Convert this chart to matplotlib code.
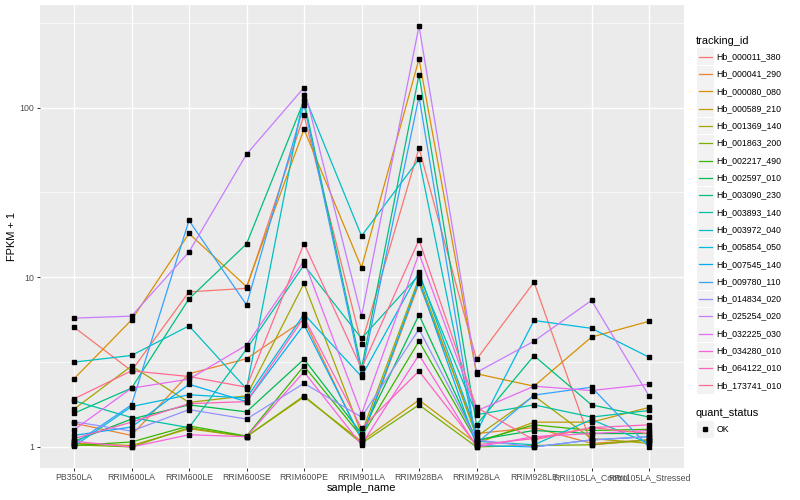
import matplotlib
matplotlib.use('Agg')
import matplotlib.pyplot as plt
from matplotlib.patches import Rectangle
from matplotlib.lines import Line2D
from matplotlib.ticker import FixedLocator, NullFormatter

plt.rcParams['font.family'] = ['Liberation Sans', 'DejaVu Sans']

samples = ['PB350LA', 'RRIM600LA', 'RRIM600LE', 'RRIM600SE', 'RRIM600PE', 'RRIM901LA',
           'RRIM928BA', 'RRIM928LA', 'RRIM928LE', 'RRII105LA_Control', 'RRII105LA_Stressed']

tracking_ids = ['Hb_000011_380', 'Hb_000041_290', 'Hb_000080_080', 'Hb_000589_210',
                'Hb_001369_140', 'Hb_001863_200', 'Hb_002217_490', 'Hb_002597_010',
                'Hb_003090_230', 'Hb_003893_140', 'Hb_003972_040', 'Hb_005854_050',
                'Hb_007545_140', 'Hb_009780_110', 'Hb_014834_020', 'Hb_025254_020',
                'Hb_032225_030', 'Hb_034280_010', 'Hb_064122_010', 'Hb_173741_010']

# ggplot default hue palette for 20 levels
colors = ['#F8766D', '#EA8331', '#D89000', '#C09B00', '#A3A500', '#7CAE00', '#39B600',
          '#00BB4E', '#00BF7D', '#00C1A3', '#00BFC4', '#00BAE0', '#00B0F6', '#35A2FF',
          '#9590FF', '#C77CFF', '#E76BF3', '#FA62DB', '#FF62BC', '#FF6C91']

# FPKM + 1, one row per tracking_id, one value per sample
fpkm = [
    [5.08, 2.81, 8.2, 8.6, 90, 4.05, 57.6, 3.28, 9.35, 1.03, 1.1],
    [1.38, 1.17, 2.7, 3.31, 5.6, 1.1, 9.2, 1.2, 1.3, 1.05, 1.1],
    [2.52, 5.6, 18.1, 8.8, 74.4, 11.4, 193, 2.7, 2.28, 4.44, 5.5],
    [1.05, 1.02, 1.28, 1.15, 1.97, 1.08, 1.89, 1.05, 1.4, 1.4, 1.71],
    [1.67, 3.0, 1.83, 2.0, 9.2, 1.2, 9.9, 1.15, 2.0, 1.12, 1.05],
    [1.03, 1.0, 1.3, 1.15, 2.0, 1.05, 1.77, 1.0, 1.02, 1.03, 1.1],
    [1.02, 1.07, 1.33, 1.16, 3.0, 1.15, 4.2, 1.08, 1.35, 1.25, 1.27],
    [1.08, 1.46, 1.77, 1.61, 3.29, 1.2, 6.0, 1.1, 1.25, 1.2, 1.2],
    [1.58, 2.22, 7.46, 15.7, 110, 2.9, 156, 1.35, 3.45, 1.77, 1.5],
    [1.87, 1.49, 1.3, 3.77, 11.8, 4.36, 10.3, 1.55, 1.77, 1.5, 1.64],
    [3.16, 3.46, 5.17, 2.2, 119, 17.5, 49.7, 1.08, 1.03, 1.45, 1.05],
    [1.01, 1.73, 2.03, 1.94, 6.06, 2.6, 10.7, 1.22, 5.56, 5.0, 3.38],
    [1.17, 1.31, 2.34, 1.85, 5.25, 1.12, 9.5, 1.02, 1.0, 1.1, 1.15],
    [1.04, 1.77, 21.6, 6.87, 104, 2.7, 116, 1.05, 2.02, 2.25, 1.0],
    [1.41, 1.24, 1.66, 1.46, 2.37, 1.5, 4.94, 1.1, 1.0, 1.1, 1.15],
    [5.74, 5.9, 14.1, 53, 131, 5.9, 302, 2.75, 4.2, 7.3, 2.0],
    [1.26, 2.22, 2.51, 3.98, 12.5, 1.56, 13.8, 1.63, 2.28, 2.15, 2.34],
    [1.08, 1.0, 1.18, 1.15, 2.77, 1.03, 3.49, 1.0, 1.15, 1.2, 1.25],
    [1.12, 1.4, 1.8, 1.85, 5.8, 1.29, 2.8, 1.03, 1.12, 1.3, 1.35],
    [1.92, 2.81, 2.6, 2.25, 15.8, 2.9, 16.6, 1.71, 1.1, 1.3, 1.2],
]

W, H = 800, 500
fig = plt.figure(figsize=(8, 5), dpi=100)
# panel placed in pixel units like the ggplot output
ax = fig.add_axes([39.5 / W, 1 - 468 / H, (683.5 - 39.5) / W, (468 - 5) / H])
ax.set_facecolor('#EBEBEB')
for s in ax.spines.values():
    s.set_visible(False)

x = list(range(len(samples)))
for vals, c in zip(fpkm, colors):
    ax.plot(x, vals, color=c, lw=0.9, zorder=3)
for vals in fpkm:
    ax.plot(x, vals, 's', color='black', ms=3, zorder=4)

ax.set_yscale('log')
ax.set_ylim(10 ** -0.124, 10 ** 2.604)
ax.set_xlim(-0.6, len(samples) - 0.4)
ax.yaxis.set_major_locator(FixedLocator([1, 10, 100]))
ax.set_yticklabels(['1', '10', '100'])
ax.yaxis.set_minor_locator(FixedLocator([10 ** 0.5, 10 ** 1.5, 10 ** 2.5]))
ax.yaxis.set_minor_formatter(NullFormatter())
ax.set_xticks(x)
ax.set_xticklabels(samples)

ax.grid(which='major', color='white', lw=1.0, zorder=0)
ax.grid(which='minor', axis='y', color='white', lw=0.5, zorder=0)
ax.set_axisbelow(True)
ax.tick_params(which='major', length=2, width=0.7, color='#333333', labelcolor='#4D4D4D',
               labelsize=6.3, pad=1.6)
ax.tick_params(which='minor', length=0)

fig.text(361.5 / W, 1 - 488 / H, 'sample_name', ha='center', va='center', fontsize=7.9)
fig.text(12 / W, 1 - 236.5 / H, 'FPKM + 1', ha='center', va='center', rotation=90, fontsize=7.9)

# legend: tracking_id
fig.text(696 / W, 1 - 40.5 / H, 'tracking_id', ha='left', va='center', fontsize=7.9)
for i, (name, c) in enumerate(zip(tracking_ids, colors)):
    yc = 56.7 + i * 17.3
    fig.add_artist(Rectangle((697 / W, 1 - (yc + 8.5) / H), 16.5 / W, 16.8 / H,
                             transform=fig.transFigure, facecolor='#F2F2F2', edgecolor='none'))
    fig.add_artist(Line2D([698.5 / W, 712 / W], [1 - yc / H, 1 - yc / H],
                          transform=fig.transFigure, color=c, lw=0.9))
    fig.text(716.5 / W, 1 - yc / H, name, ha='left', va='center', fontsize=6.3)

# legend: quant_status
fig.text(696 / W, 1 - 412.5 / H, 'quant_status', ha='left', va='center', fontsize=7.9)
fig.add_artist(Rectangle((697 / W, 1 - (429.3 + 8.5) / H), 16.5 / W, 16.8 / H,
                         transform=fig.transFigure, facecolor='#F2F2F2', edgecolor='none'))
fig.add_artist(Line2D([705.2 / W], [1 - 429.3 / H], transform=fig.transFigure,
                      marker='s', ms=3, color='black', lw=0))
fig.text(716.5 / W, 1 - 429.3 / H, 'OK', ha='left', va='center', fontsize=6.3)

fig.savefig('out.png', dpi=100)
